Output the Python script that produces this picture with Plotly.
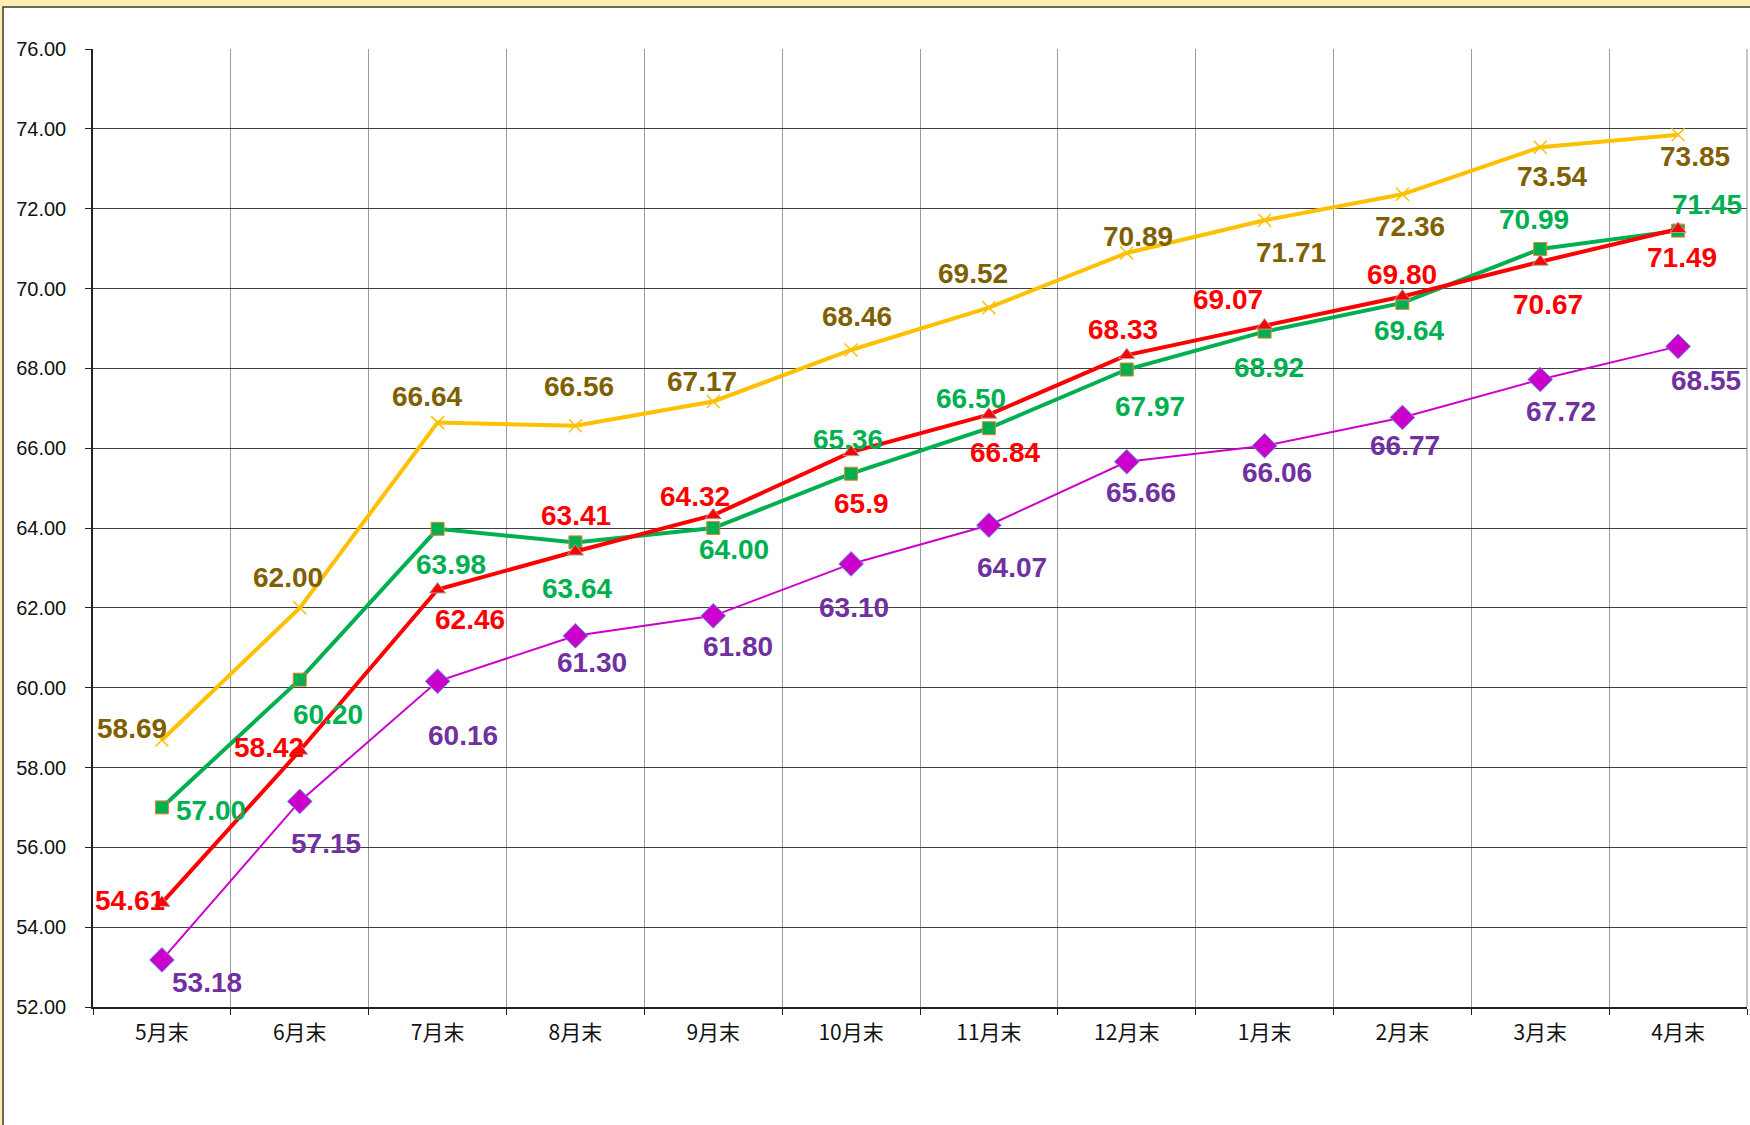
import plotly.graph_objects as go

# ---------------- data ----------------
categories = ["5月末", "6月末", "7月末", "8月末", "9月末", "10月末",
              "11月末", "12月末", "1月末", "2月末", "3月末", "4月末"]

yellow_values = [58.69, 62.00, 66.64, 66.56, 67.17, 68.46, 69.52, 70.89, 71.71, 72.36, 73.54, 73.85]
green_values = [57.00, 60.20, 63.98, 63.64, 64.00, 65.36, 66.50, 67.97, 68.92, 69.64, 70.99, 71.45]
red_values = [54.61, 58.42, 62.46, 63.41, 64.32, 65.9, 66.84, 68.33, 69.07, 69.80, 70.67, 71.49]
purple_values = [53.18, 57.15, 60.16, 61.30, 61.80, 63.10, 64.07, 65.66, 66.06, 66.77, 67.72, 68.55]

yellow_labels = ["58.69", "62.00", "66.64", "66.56", "67.17", "68.46", "69.52", "70.89", "71.71", "72.36", "73.54", "73.85"]
green_labels = ["57.00", "60.20", "63.98", "63.64", "64.00", "65.36", "66.50", "67.97", "68.92", "69.64", "70.99", "71.45"]
red_labels = ["54.61", "58.42", "62.46", "63.41", "64.32", "65.9", "66.84", "68.33", "69.07", "69.80", "70.67", "71.49"]
purple_labels = ["53.18", "57.15", "60.16", "61.30", "61.80", "63.10", "64.07", "65.66", "66.06", "66.77", "67.72", "68.55"]

y_ticks = [52, 54, 56, 58, 60, 62, 64, 66, 68, 70, 72, 74, 76]

# ---------------- label offsets (pixels: dx right, dy down) ----------------
yellow_off = [(-30, -11), (-12, -30), (-11, -26), (4, -39), (-11, -20), (6, -33),
              (-16, -34), (11, -16), (26, 32), (8, 32), (12, 29), (17, 22)]
green_off = [(49, 3), (28, 35), (13, 36), (2, 46), (21, 21), (-3, -34),
             (-18, -30), (23, 37), (4, 36), (7, 28), (-6, -29), (29, -26)]
red_off = [(-32, -2), (-31, -3), (32, 30), (1, -36), (-18, -19), (10, 51),
           (16, 38), (-4, -26), (-37, -26), (0, -22), (8, 43), (4, 28)]
purple_off = [(45, 23), (26, 42), (25, 54), (17, 27), (25, 31), (3, 44),
              (23, 42), (14, 31), (12, 27), (3, 28), (21, 32), (28, 34)]

series = [
    dict(values=purple_values, labels=purple_labels, off=purple_off,
         line=dict(color="#CC00CC", width=2),
         marker=dict(symbol="diamond", size=19, color="#CC00CC",
                     line=dict(color="#5B9BD5", width=1)),
         label_color="#7030A0"),
    dict(values=yellow_values, labels=yellow_labels, off=yellow_off,
         line=dict(color="#FFC000", width=4),
         marker=dict(symbol="x-thin", size=13, color="#FFC000",
                     line=dict(color="#FFC000", width=1.5)),
         label_color="#7F6000"),
    dict(values=green_values, labels=green_labels, off=green_off,
         line=dict(color="#00B050", width=4),
         marker=dict(symbol="square", size=13, color="#00B050",
                     line=dict(color="#ED7D31", width=1)),
         label_color="#00B050"),
    dict(values=red_values, labels=red_labels, off=red_off,
         line=dict(color="#FF0000", width=4),
         marker=dict(symbol="triangle-up", size=14, color="#FF0000",
                     line=dict(color="#A5A5A5", width=1)),
         label_color="#FF0000"),
]

fig = go.Figure()
annotations = []
for s in series:
    fig.add_trace(go.Scatter(
        x=categories, y=s["values"], mode="lines+markers",
        line=s["line"], marker=s["marker"], showlegend=False,
        hoverinfo="x+y"))
    for c, v, t, (dx, dy) in zip(categories, s["values"], s["labels"], s["off"]):
        annotations.append(dict(
            x=c, y=v, xref="x", yref="y", text=t, showarrow=False,
            xshift=dx, yshift=-dy, xanchor="center", yanchor="middle",
            font=dict(family="Liberation Sans, Arial, sans-serif", size=28,
                      color=s["label_color"], weight="bold")))

W, H = 1750, 1125
L, R, T, B = 93, 3, 49, 118
pw, ph = W - L - R, H - T - B


def px(xp):
    return (xp - L) / pw


def py(yp):
    return (H - B - yp) / ph


shapes = [
    # white chart area with dark border over the yellow page
    dict(type="rect", xref="paper", yref="paper", layer="below",
         x0=px(3), x1=px(W + 10), y0=py(H + 10), y1=py(7),
         fillcolor="white", line=dict(color="#3A3A3A", width=1.5)),
    # right border of the plot area
    dict(type="line", xref="paper", yref="paper",
         x0=1, x1=1, y0=0, y1=1, line=dict(color="#8C8C8C", width=1)),
]

fig.update_layout(
    width=W, height=H,
    margin=dict(l=L, r=R, t=T, b=B, pad=0),
    paper_bgcolor="#FFEEAF",
    plot_bgcolor="white",
    annotations=annotations,
    shapes=shapes,
    xaxis=dict(
        type="category", range=[-0.5, len(categories) - 0.5],
        tickson="boundaries", ticks="outside", ticklen=6, tickcolor="#222222",
        showgrid=True, gridcolor="#9A9A9A", gridwidth=1,
        showline=True, linecolor="#222222", linewidth=1.5,
        tickfont=dict(family="Noto Sans CJK JP, sans-serif", size=21, color="#111111"),
        ticklabelstandoff=6, fixedrange=True,
    ),
    yaxis=dict(
        range=[52, 76], tickvals=y_ticks,
        ticktext=[f"{v:.2f}" for v in y_ticks],
        ticks="outside", ticklen=6, tickcolor="#222222",
        showgrid=True, gridcolor="#3F3F3F", gridwidth=1.2,
        showline=True, linecolor="#222222", linewidth=1.5,
        zeroline=False,
        tickfont=dict(family="Liberation Sans, Arial, sans-serif",
                      size=20, color="#111111"),
        ticklabelstandoff=15, fixedrange=True,
    ),
)

fig.write_html(
    "out.html",
    config={"displayModeBar": False},
    post_script="document.body.style.margin='0';document.body.style.background='#FFEEAF';",
)
